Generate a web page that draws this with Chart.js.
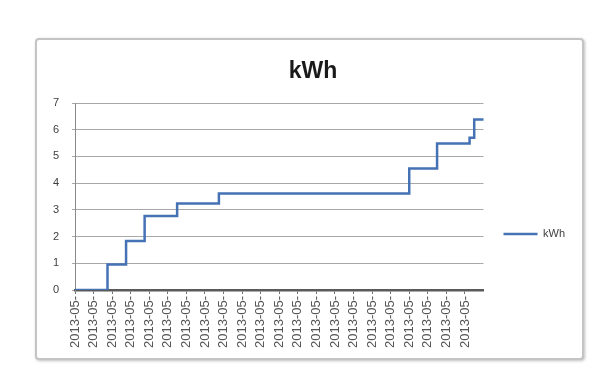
<!DOCTYPE html>
<html>
<head>
<meta charset="utf-8">
<script src="https://cdn.jsdelivr.net/npm/chart.js@4"></script>
<style>
  body { margin: 0; background: #fff; }
  #frame {
    position: absolute; left: 35px; top: 38px; width: 545px; height: 318px;
    border: 2px solid #c4c4c4; border-radius: 4px;
    box-shadow: 1px 1px 3px rgba(0,0,0,0.25);
    background: #fff;
  }
  #wrap { position: absolute; left: 0; top: 0; width: 605px; height: 385px; }
</style>
</head>
<body>
<div id="frame"></div>
<div id="wrap"><canvas id="myChart" width="605" height="385"></canvas></div>
<script>
// 89 readings, labels cut off to "2013-05-" like in the sheet
const categories = Array.from({ length: 89 }, () => "2013-05-");

const kwh = [
  0, 0, 0, 0, 0, 0, 0,
  0.95, 0.95, 0.95, 0.95,
  1.83, 1.83, 1.83, 1.83,
  2.77, 2.77, 2.77, 2.77, 2.77, 2.77, 2.77,
  3.24, 3.24, 3.24, 3.24, 3.24, 3.24, 3.24, 3.24, 3.24,
  3.61, 3.61, 3.61, 3.61, 3.61, 3.61, 3.61, 3.61, 3.61, 3.61,
  3.61, 3.61, 3.61, 3.61, 3.61, 3.61, 3.61, 3.61, 3.61, 3.61,
  3.61, 3.61, 3.61, 3.61, 3.61, 3.61, 3.61, 3.61, 3.61, 3.61,
  3.61, 3.61, 3.61, 3.61, 3.61, 3.61, 3.61, 3.61, 3.61, 3.61,
  3.61,
  4.55, 4.55, 4.55, 4.55, 4.55, 4.55,
  5.48, 5.48, 5.48, 5.48, 5.48, 5.48, 5.48,
  5.7,
  6.38, 6.38, 6.38,
];

const yTicks = [0, 1, 2, 3, 4, 5, 6, 7];

// title drawn at the spot Excel put it (not centred on the canvas)
const titlePlugin = {
  id: "xlTitle",
  afterDraw(chart) {
    const ctx = chart.ctx;
    ctx.save();
    ctx.font = "bold 23px 'Liberation Sans', Arial, sans-serif";
    ctx.fillStyle = "#1a1a1a";
    ctx.textAlign = "center";
    ctx.textBaseline = "alphabetic";
    ctx.fillText("kWh", 313, 78);
    ctx.restore();
  },
};

const data = {
  labels: categories,
  datasets: [
    {
      label: "kWh",
      data: kwh,
      borderColor: "#4572b5",
      backgroundColor: "#4572b5",
      borderWidth: 2.5,
      pointRadius: 0,
      stepped: true,
    },
  ],
};

const config = {
  type: "line",
  data: data,
  options: {
    responsive: false,
    animation: false,
    layout: {
      padding: { left: 40, top: 103, right: 30, bottom: 20 },
    },
    plugins: {
      title: { display: false },
      tooltip: { enabled: false },
      legend: {
        position: "right",
        labels: {
          usePointStyle: true,
          pointStyle: "line",
          pointStyleWidth: 34,
          padding: 20,
          color: "#404040",
          font: { family: "'Liberation Sans', Arial, sans-serif", size: 11 },
        },
      },
    },
    scales: {
      x: {
        grid: {
          drawOnChartArea: false,
          color: "#707070",
          tickLength: 4,
        },
        border: { color: "#5a5a5a", width: 2.5 },
        ticks: {
          autoSkip: false,
          maxRotation: 90,
          minRotation: 90,
          padding: 2,
          color: "#555",
          font: { family: "'Liberation Sans', Arial, sans-serif", size: 13 },
          callback: function (v, i) {
            return i % 4 === 0 && i <= 84 ? categories[i] : null;
          },
        },
        afterFit: function (scale) {
          scale.height = 75;
        },
      },
      y: {
        min: 0,
        max: 7,
        afterBuildTicks: function (scale) {
          scale.ticks = yTicks.map((v) => ({ value: v }));
        },
        grid: { color: "#a8a8a8", tickLength: 3 },
        border: { color: "#8a8a8a" },
        ticks: {
          color: "#404040",
          padding: 13,
          font: { family: "'Liberation Sans', Arial, sans-serif", size: 11 },
        },
        afterFit: function (scale) {
          scale.width = 35;
        },
      },
    },
  },
  plugins: [titlePlugin],
};

const chart = new Chart(document.getElementById("myChart"), config);
</script>
</body>
</html>
